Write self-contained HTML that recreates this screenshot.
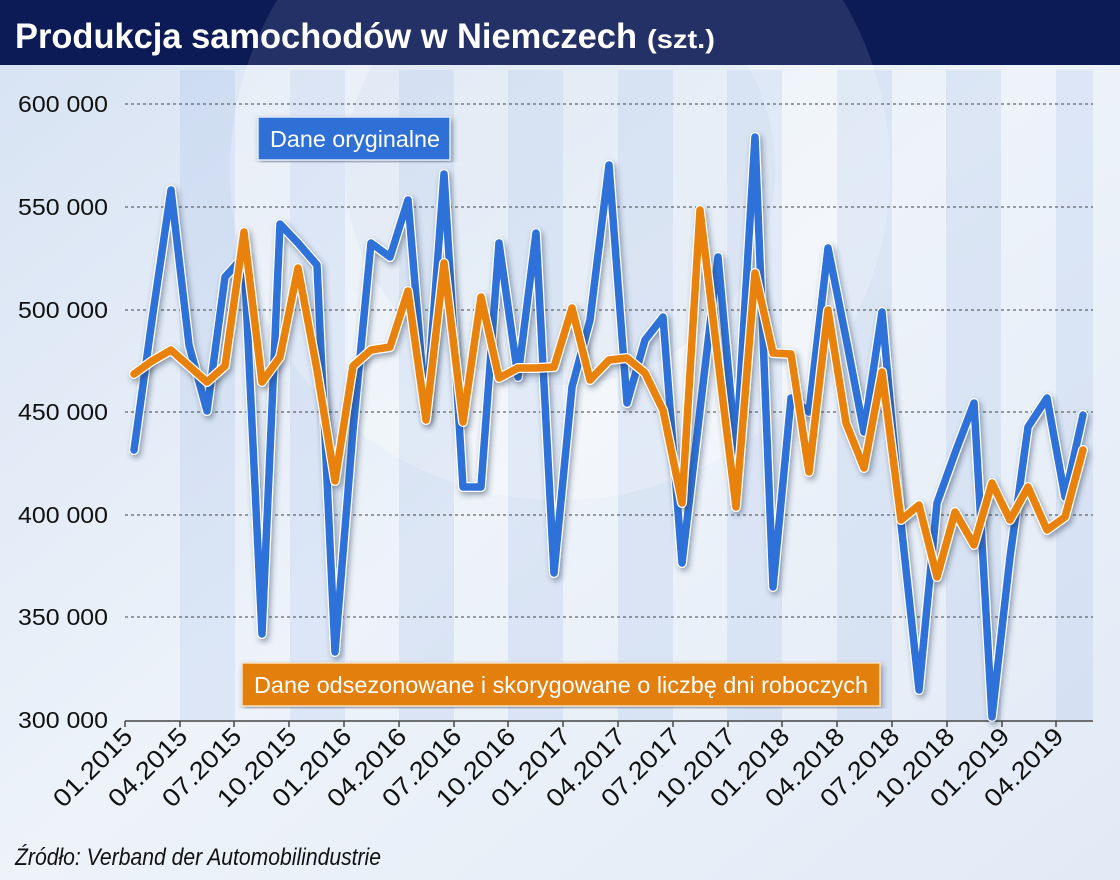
<!DOCTYPE html>
<html><head><meta charset="utf-8"><style>
html,body{margin:0;padding:0;width:1120px;height:880px;overflow:hidden}
svg{display:block}
</style></head><body>
<svg width="1120" height="880" viewBox="0 0 1120 880" xmlns="http://www.w3.org/2000/svg">
<defs>
<linearGradient id="bg" x1="0" y1="0" x2="1" y2="1">
<stop offset="0" stop-color="#d6e2f3"/><stop offset="0.5" stop-color="#eef3fa"/><stop offset="1" stop-color="#e2eaf6"/>
</linearGradient>
<filter id="sh" x="-5%" y="-5%" width="110%" height="110%"><feDropShadow dx="2" dy="3" stdDeviation="3" flood-color="#203050" flood-opacity="0.45"/></filter>
</defs>
<rect width="1120" height="880" fill="url(#bg)"/>
<circle cx="560" cy="170" r="330" fill="#ffffff" opacity="0.25"/>
<circle cx="560" cy="170" r="215" fill="#c9d6ec" opacity="0.25"/>
<g fill="#9fbbe6" opacity="0.22">
<rect x="180" y="70" width="55" height="650"/><rect x="290" y="70" width="55" height="650"/>
<rect x="399" y="70" width="55" height="650"/><rect x="508" y="70" width="55" height="650"/>
<rect x="618" y="70" width="55" height="650"/><rect x="727" y="70" width="55" height="650"/>
<rect x="837" y="70" width="55" height="650"/><rect x="946" y="70" width="55" height="650"/>
<rect x="1056" y="70" width="37" height="650"/>
</g>
<rect x="0" y="0" width="1120" height="65" fill="#0c1a55"/>
<circle cx="560" cy="170" r="330" fill="#ffffff" opacity="0.10"/>
<text x="15" y="48" fill="#fff" font-family="Liberation Sans, sans-serif" font-weight="bold" font-size="35" textLength="622" lengthAdjust="spacingAndGlyphs">Produkcja samochodów w Niemczech</text>
<text x="647" y="48" fill="#fff" font-family="Liberation Sans, sans-serif" font-weight="bold" font-size="26" textLength="68" lengthAdjust="spacingAndGlyphs">(szt.)</text>
<g stroke="#444" stroke-width="1" stroke-dasharray="3,3">
<line x1="125" y1="104" x2="1093" y2="104"/><line x1="125" y1="207" x2="1093" y2="207"/>
<line x1="125" y1="310" x2="1093" y2="310"/><line x1="125" y1="412" x2="1093" y2="412"/>
<line x1="125" y1="515" x2="1093" y2="515"/><line x1="125" y1="617" x2="1093" y2="617"/>
</g>
<g font-family="Liberation Sans, sans-serif" font-size="23" fill="#111">
<text x="18" y="112" textLength="90" lengthAdjust="spacingAndGlyphs">600 000</text>
<text x="18" y="215" textLength="90" lengthAdjust="spacingAndGlyphs">550 000</text>
<text x="18" y="318" textLength="90" lengthAdjust="spacingAndGlyphs">500 000</text>
<text x="18" y="420" textLength="90" lengthAdjust="spacingAndGlyphs">450 000</text>
<text x="18" y="523" textLength="90" lengthAdjust="spacingAndGlyphs">400 000</text>
<text x="18" y="625" textLength="90" lengthAdjust="spacingAndGlyphs">350 000</text>
<text x="18" y="728" textLength="90" lengthAdjust="spacingAndGlyphs">300 000</text>
</g>
<line x1="125" y1="721" x2="1093" y2="721" stroke="#444" stroke-width="1.5"/>
<g stroke="#444" stroke-width="1.5">
<line x1="125" y1="721" x2="125" y2="727"/><line x1="180" y1="721" x2="180" y2="727"/><line x1="234" y1="721" x2="234" y2="727"/><line x1="289" y1="721" x2="289" y2="727"/><line x1="344" y1="721" x2="344" y2="727"/><line x1="399" y1="721" x2="399" y2="727"/><line x1="454" y1="721" x2="454" y2="727"/><line x1="508" y1="721" x2="508" y2="727"/><line x1="563" y1="721" x2="563" y2="727"/><line x1="618" y1="721" x2="618" y2="727"/><line x1="673" y1="721" x2="673" y2="727"/><line x1="728" y1="721" x2="728" y2="727"/><line x1="782" y1="721" x2="782" y2="727"/><line x1="837" y1="721" x2="837" y2="727"/><line x1="892" y1="721" x2="892" y2="727"/><line x1="947" y1="721" x2="947" y2="727"/><line x1="1002" y1="721" x2="1002" y2="727"/><line x1="1056" y1="721" x2="1056" y2="727"/>
</g>
<g font-family="Liberation Sans, sans-serif" font-size="25" fill="#111" text-anchor="end">
<text transform="translate(134,738) rotate(-45)" textLength="100" lengthAdjust="spacingAndGlyphs">01.2015</text>
<text transform="translate(189,738) rotate(-45)" textLength="100" lengthAdjust="spacingAndGlyphs">04.2015</text>
<text transform="translate(243,738) rotate(-45)" textLength="100" lengthAdjust="spacingAndGlyphs">07.2015</text>
<text transform="translate(298,738) rotate(-45)" textLength="100" lengthAdjust="spacingAndGlyphs">10.2015</text>
<text transform="translate(353,738) rotate(-45)" textLength="100" lengthAdjust="spacingAndGlyphs">01.2016</text>
<text transform="translate(408,738) rotate(-45)" textLength="100" lengthAdjust="spacingAndGlyphs">04.2016</text>
<text transform="translate(463,738) rotate(-45)" textLength="100" lengthAdjust="spacingAndGlyphs">07.2016</text>
<text transform="translate(517,738) rotate(-45)" textLength="100" lengthAdjust="spacingAndGlyphs">10.2016</text>
<text transform="translate(572,738) rotate(-45)" textLength="100" lengthAdjust="spacingAndGlyphs">01.2017</text>
<text transform="translate(627,738) rotate(-45)" textLength="100" lengthAdjust="spacingAndGlyphs">04.2017</text>
<text transform="translate(682,738) rotate(-45)" textLength="100" lengthAdjust="spacingAndGlyphs">07.2017</text>
<text transform="translate(737,738) rotate(-45)" textLength="100" lengthAdjust="spacingAndGlyphs">10.2017</text>
<text transform="translate(791,738) rotate(-45)" textLength="100" lengthAdjust="spacingAndGlyphs">01.2018</text>
<text transform="translate(846,738) rotate(-45)" textLength="100" lengthAdjust="spacingAndGlyphs">04.2018</text>
<text transform="translate(901,738) rotate(-45)" textLength="100" lengthAdjust="spacingAndGlyphs">07.2018</text>
<text transform="translate(956,738) rotate(-45)" textLength="100" lengthAdjust="spacingAndGlyphs">10.2018</text>
<text transform="translate(1011,738) rotate(-45)" textLength="100" lengthAdjust="spacingAndGlyphs">01.2019</text>
<text transform="translate(1065,738) rotate(-45)" textLength="100" lengthAdjust="spacingAndGlyphs">04.2019</text>
</g>
<text x="15" y="865" font-family="Liberation Sans, sans-serif" font-style="italic" font-size="24" fill="#111" textLength="366" lengthAdjust="spacingAndGlyphs">Źródło: Verband der Automobilindustrie</text>

<g fill="none" stroke-linejoin="round" stroke-linecap="round">
<polyline filter="url(#sh)" stroke="#fff" stroke-width="10" points="134,450 152,320 171,190 189,345 207,411 225,277 244,256 262,634 280,224 298,243 317,265 335,652 353,430 371,243 390,257 408,200 426,416 444,174 463,487 481,487 499,243 518,377 536,233 554,573 572,387 590,320 609,165 627,403 645,340 663,317 682,563 700,410 718,257 736,453 755,137 773,587 791,398 809,412 828,248 846,338 864,432 882,312 901,523 919,690 937,503 955,453 974,403 992,717 1010,557 1028,427 1047,398 1065,497 1083,415"/>
<polyline stroke="#2e72d9" stroke-width="7.5" points="134,450 152,320 171,190 189,345 207,411 225,277 244,256 262,634 280,224 298,243 317,265 335,652 353,430 371,243 390,257 408,200 426,416 444,174 463,487 481,487 499,243 518,377 536,233 554,573 572,387 590,320 609,165 627,403 645,340 663,317 682,563 700,410 718,257 736,453 755,137 773,587 791,398 809,412 828,248 846,338 864,432 882,312 901,523 919,690 937,503 955,453 974,403 992,717 1010,557 1028,427 1047,398 1065,497 1083,415"/>
<polyline filter="url(#sh)" stroke="#fff" stroke-width="10" points="134,374 152,361 171,350 189,366 207,382 225,366 244,232 262,382 280,357 298,268 317,370 335,481 353,366 371,350 390,347 408,291 426,420 444,263 463,422 481,297 499,378 518,368 536,368 554,367 572,308 590,380 609,360 627,358 645,373 663,410 682,503 700,210 718,360 736,507 755,273 773,353 791,354 809,472 828,310 846,423 864,468 882,372 901,520 919,505 937,577 955,512 974,545 992,483 1010,520 1028,487 1047,530 1065,517 1083,450"/>
<polyline stroke="#e8820c" stroke-width="7.5" points="134,374 152,361 171,350 189,366 207,382 225,366 244,232 262,382 280,357 298,268 317,370 335,481 353,366 371,350 390,347 408,291 426,420 444,263 463,422 481,297 499,378 518,368 536,368 554,367 572,308 590,380 609,360 627,358 645,373 663,410 682,503 700,210 718,360 736,507 755,273 773,353 791,354 809,472 828,310 846,423 864,468 882,372 901,520 919,505 937,577 955,512 974,545 992,483 1010,520 1028,487 1047,530 1065,517 1083,450"/>
</g>
<rect x="258" y="117" width="192" height="43" fill="#2e6fd6" stroke="#dfe8f8" stroke-width="1.5" filter="url(#sh)"/>
<text x="270" y="147" fill="#fff" font-family="Liberation Sans, sans-serif" font-size="23" textLength="170" lengthAdjust="spacingAndGlyphs">Dane oryginalne</text>
<rect x="242" y="663" width="638" height="43" fill="#e27f08" stroke="#f6e0c0" stroke-width="1.5" filter="url(#sh)"/>
<text x="254" y="693" fill="#fff" font-family="Liberation Sans, sans-serif" font-size="23" textLength="614" lengthAdjust="spacingAndGlyphs">Dane odsezonowane i skorygowane o liczbę dni roboczych</text>
</svg>
</body></html>
